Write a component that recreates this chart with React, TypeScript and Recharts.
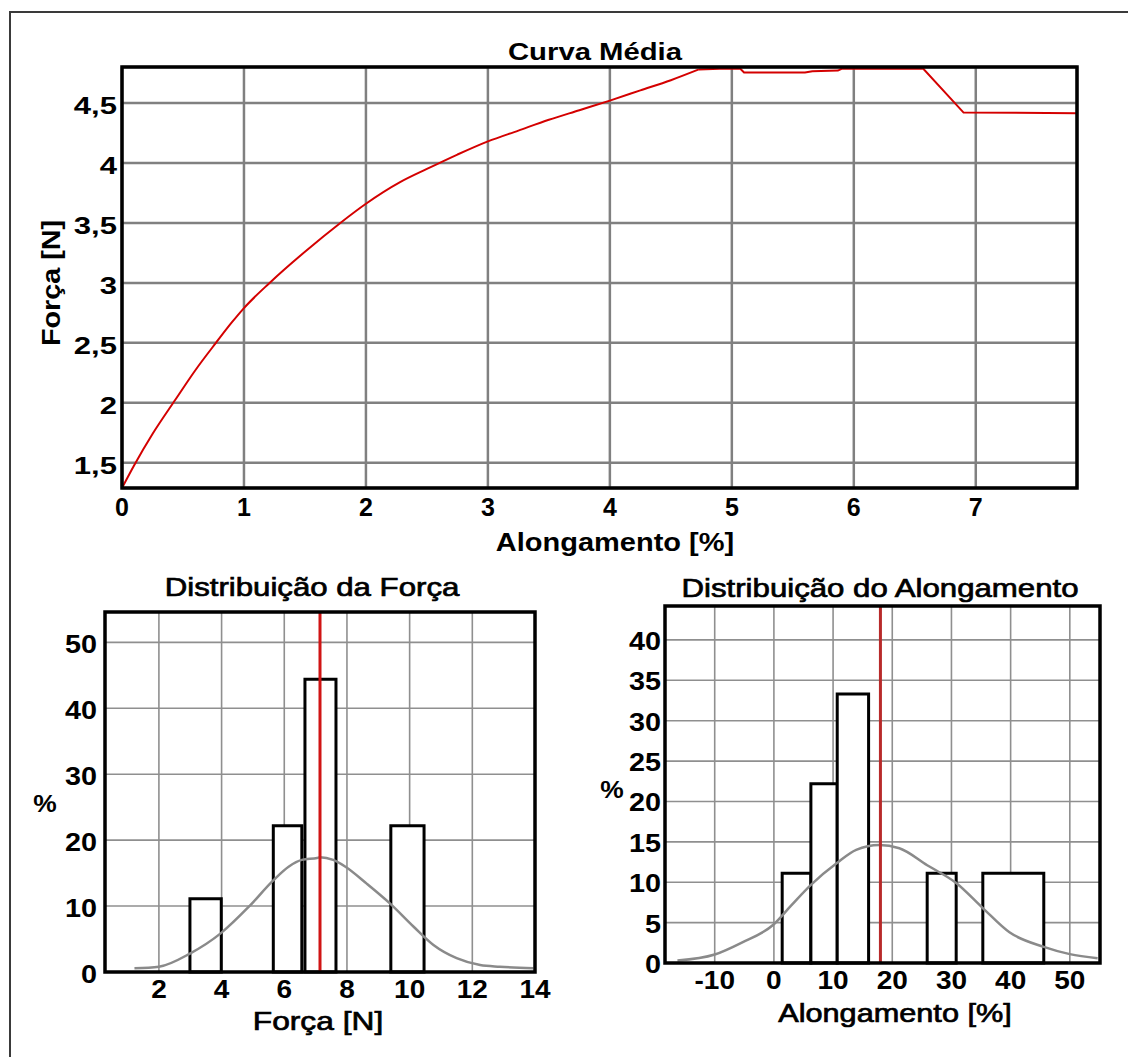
import React from 'react';
import { LineChart, Line, XAxis, YAxis, CartesianGrid, ReferenceArea, ReferenceLine } from 'recharts';

// ---------- Curva Média ----------
const curveAlong = [0, 0.1, 0.25, 0.44, 0.6, 0.77, 0.9, 1.0, 1.21, 1.5, 1.79, 2.0, 2.28, 2.5, 2.75, 3.0, 3.25, 3.5, 3.75, 4.0, 4.25, 4.5, 4.73, 4.9, 5.07, 5.1, 5.6, 5.66, 5.87, 5.9, 6.57, 6.9, 7.83];
const curveForca = [1.29, 1.48, 1.74, 2.03, 2.27, 2.5, 2.67, 2.79, 3.0, 3.26, 3.5, 3.66, 3.84, 3.95, 4.07, 4.18, 4.27, 4.36, 4.44, 4.52, 4.605, 4.69, 4.78, 4.785, 4.785, 4.755, 4.755, 4.765, 4.77, 4.785, 4.785, 4.42, 4.415];
const topXTicks = [0, 1, 2, 3, 4, 5, 6, 7];
const topYTicks = [1.5, 2, 2.5, 3, 3.5, 4, 4.5];

// ---------- Distribuição da Força ----------
const forcaBinStart = [2.99, 5.65, 6.66, 9.4];
const forcaBinEnd = [3.99, 6.56, 7.65, 10.46];
const forcaPct = [11.1, 22.2, 44.4, 22.2];
const forcaMean = 7.14;
const forcaCurveX = [1.22, 2.0, 2.99, 3.98, 4.87, 5.65, 6.15, 6.56, 7.05, 7.14, 7.56, 7.94, 8.63, 9.37, 10.12, 10.76, 11.5, 12.25, 12.88, 13.95];
const forcaCurveY = [0.56, 0.8, 2.8, 5.9, 9.9, 13.9, 16.0, 17.0, 17.3, 17.4, 17.0, 16.0, 13.4, 10.4, 6.9, 4.1, 2.1, 1.06, 0.8, 0.56];
const forcaXTicks = [2, 4, 6, 8, 10, 12, 14];
const forcaYTicks = [0, 10, 20, 30, 40, 50];

// ---------- Distribuição do Alongamento ----------
const alongBinStart = [1.4, 6.25, 10.7, 25.9, 35.3];
const alongBinEnd = [6.25, 10.7, 16.0, 30.8, 45.6];
const alongPct = [11.1, 22.2, 33.3, 11.1, 11.1];
const alongMean = 18.0;
const alongCurveX = [-16.3, -10, -5.5, 0, 2.9, 6.3, 10.7, 13.9, 17.8, 21.2, 25.9, 30.8, 35.3, 39.8, 45.6, 50.0, 54.7];
const alongCurveY = [0.3, 1.05, 2.5, 4.8, 7.1, 9.7, 12.4, 14.0, 14.6, 14.2, 12.1, 9.9, 6.8, 3.8, 2.0, 1.1, 0.6];
const alongXTicks = [-10, 0, 10, 20, 30, 40, 50];
const alongYTicks = [0, 5, 10, 15, 20, 25, 30, 35, 40];

const FONT = "'Liberation Sans', Arial, Helvetica, sans-serif";

const toRows = (xs: number[], ys: number[]) => xs.map((x, i) => ({ x, y: ys[i] }));
const curveRows = toRows(curveAlong, curveForca);
const PEAK = 22; // index where the rising part meets the plateau
const curveRise = curveRows.slice(0, PEAK + 1);
const curvePlateau = curveRows.slice(PEAK);
const forcaRows = toRows(forcaCurveX, forcaCurveY);
const alongRows = toRows(alongCurveX, alongCurveY);

const comma = (v: number) => String(v).replace('.', ',');

function T(props: { x: number; y: number; text: string; anchor?: string; fs?: number; sx?: number; rot?: number; weight?: string; thick?: number }) {
  const { x, y, text, anchor = 'middle', fs = 25, sx = 1, rot = 0, weight = 'bold', thick = 0 } = props;
  return (
    <text
      transform={`translate(${x},${y})${rot ? ` rotate(${rot})` : ''} scale(${sx},1)`}
      textAnchor={anchor as any}
      fontSize={fs}
      fontWeight={weight}
      fontFamily={FONT}
      fill="#000"
      stroke={thick ? '#000' : 'none'}
      strokeWidth={thick}
    >
      {text}
    </text>
  );
}

const xTick = (dy: number, fs: number, sx: number, fmt: (v: number) => string = String) => (p: any) => (
  <T x={p.x} y={p.y + dy} text={fmt(p.payload.value)} fs={fs} sx={sx} />
);
const yTick = (dy: number, fs: number, sx: number, fmt: (v: number) => string = String) => (p: any) => (
  <T x={p.x} y={p.y + dy} text={fmt(p.payload.value)} anchor="end" fs={fs} sx={sx} />
);

const axisCommon = {
  type: 'number' as const,
  interval: 0 as const,
  axisLine: false,
  tickLine: false,
  tickSize: 0,
  allowDataOverflow: true,
};

export default function App() {
  return (
    <div style={{ position: 'absolute', left: 0, top: 0, width: 1128, height: 1057, overflow: 'hidden', background: '#fff' }}>
      <div style={{ position: 'absolute', left: 9, top: 11, width: 1300, height: 1300, borderLeft: '2px solid #3a3a3a', borderTop: '2px solid #3a3a3a' }} />

      {/* Curva Média */}
      <div style={{ position: 'absolute', left: 0, top: 0 }}>
        <LineChart width={1128} height={560} data={curveRows} margin={{ top: 67, right: 51, bottom: 12, left: 0 }}>
          <CartesianGrid stroke="#808080" strokeWidth={2.5} />
          <XAxis {...axisCommon} dataKey="x" domain={[0, 7.83]} ticks={topXTicks} height={60} tickMargin={0} tick={xTick(28, 25, 1)} />
          <YAxis {...axisCommon} domain={[1.29, 4.8]} ticks={topYTicks} width={122} tickMargin={5} tick={yTick(11, 23, 1.35, comma)} />
          <Line data={curveRise} type="monotone" dataKey="y" stroke="#d40000" strokeWidth={2} dot={false} activeDot={false} isAnimationActive={false} />
          <Line data={curvePlateau} type="linear" dataKey="y" stroke="#d40000" strokeWidth={2} dot={false} activeDot={false} isAnimationActive={false} />
        </LineChart>
      </div>

      {/* Distribuição da Força */}
      <div style={{ position: 'absolute', left: 0, top: 560 }}>
        <LineChart width={570} height={497} data={forcaRows} margin={{ top: 52, right: 35, bottom: 25, left: 0 }}>
          <CartesianGrid stroke="#8f8f8f" strokeWidth={1.6} />
          <XAxis {...axisCommon} dataKey="x" domain={[0.28, 14]} ticks={forcaXTicks} height={60} tickMargin={0} tick={xTick(26, 25, 1.12)} />
          <YAxis {...axisCommon} domain={[0, 54.6]} ticks={forcaYTicks} width={105} tickMargin={8} tick={yTick(11, 25, 1.15)} />
          {forcaBinStart.map((s, i) => (
            <ReferenceArea key={i} x1={s} x2={forcaBinEnd[i]} y1={0} y2={forcaPct[i]} fill="#ffffff" fillOpacity={1} stroke="#000" strokeWidth={3} ifOverflow="visible" />
          ))}
          <Line type="monotone" dataKey="y" stroke="#8a8a8a" strokeWidth={2.5} dot={false} activeDot={false} isAnimationActive={false} />
          <ReferenceLine x={forcaMean} stroke="#d01414" strokeWidth={3} />
        </LineChart>
      </div>

      {/* Distribuição do Alongamento */}
      <div style={{ position: 'absolute', left: 570, top: 560 }}>
        <LineChart width={558} height={497} data={alongRows} margin={{ top: 46, right: 28, bottom: 34, left: 0 }}>
          <CartesianGrid stroke="#8f8f8f" strokeWidth={1.6} />
          <XAxis {...axisCommon} dataKey="x" domain={[-18.4, 55.1]} ticks={alongXTicks} height={60} tickMargin={0} tick={xTick(26, 25, 1.12)} />
          <YAxis {...axisCommon} domain={[0, 44.2]} ticks={alongYTicks} width={95} tickMargin={4} tick={yTick(10, 25, 1.15)} />
          {alongBinStart.map((s, i) => (
            <ReferenceArea key={i} x1={s} x2={alongBinEnd[i]} y1={0} y2={alongPct[i]} fill="#ffffff" fillOpacity={1} stroke="#000" strokeWidth={3} ifOverflow="visible" />
          ))}
          <Line type="monotone" dataKey="y" stroke="#8a8a8a" strokeWidth={2.5} dot={false} activeDot={false} isAnimationActive={false} />
          <ReferenceLine x={alongMean} stroke="#b82a2a" strokeWidth={3} />
        </LineChart>
      </div>

      {/* frames and titles */}
      <svg width={1128} height={1057} style={{ position: 'absolute', left: 0, top: 0, pointerEvents: 'none' }}>
        <rect x={122} y={67} width={955} height={421} fill="none" stroke="#000" strokeWidth={3.5} />
        <rect x={105} y={612} width={430} height={360} fill="none" stroke="#000" strokeWidth={3.5} />
        <rect x={665} y={606} width={435} height={357} fill="none" stroke="#000" strokeWidth={3.5} />

        <T x={595} y={60} text="Curva Média" fs={24} sx={1.22} />
        <T x={615} y={551} text="Alongamento [%]" fs={25} sx={1.16} />
        <T x={60} y={283} text="Força [N]" fs={25} sx={1.15} rot={-90} />

        <T x={312} y={596} text="Distribuição da Força" fs={26} sx={1.2} weight="normal" thick={0.7} />
        <T x={318} y={1030} text="Força [N]" fs={26} sx={1.22} weight="normal" thick={0.7} />
        <T x={45} y={812} text="%" fs={24} sx={1.1} />

        <T x={880} y={597} text="Distribuição do Alongamento" fs={26} sx={1.2} weight="normal" thick={0.7} />
        <T x={895} y={1022} text="Alongamento [%]" fs={26} sx={1.18} weight="normal" thick={0.7} />
        <T x={612} y={798} text="%" fs={24} sx={1.1} />
      </svg>
    </div>
  );
}
